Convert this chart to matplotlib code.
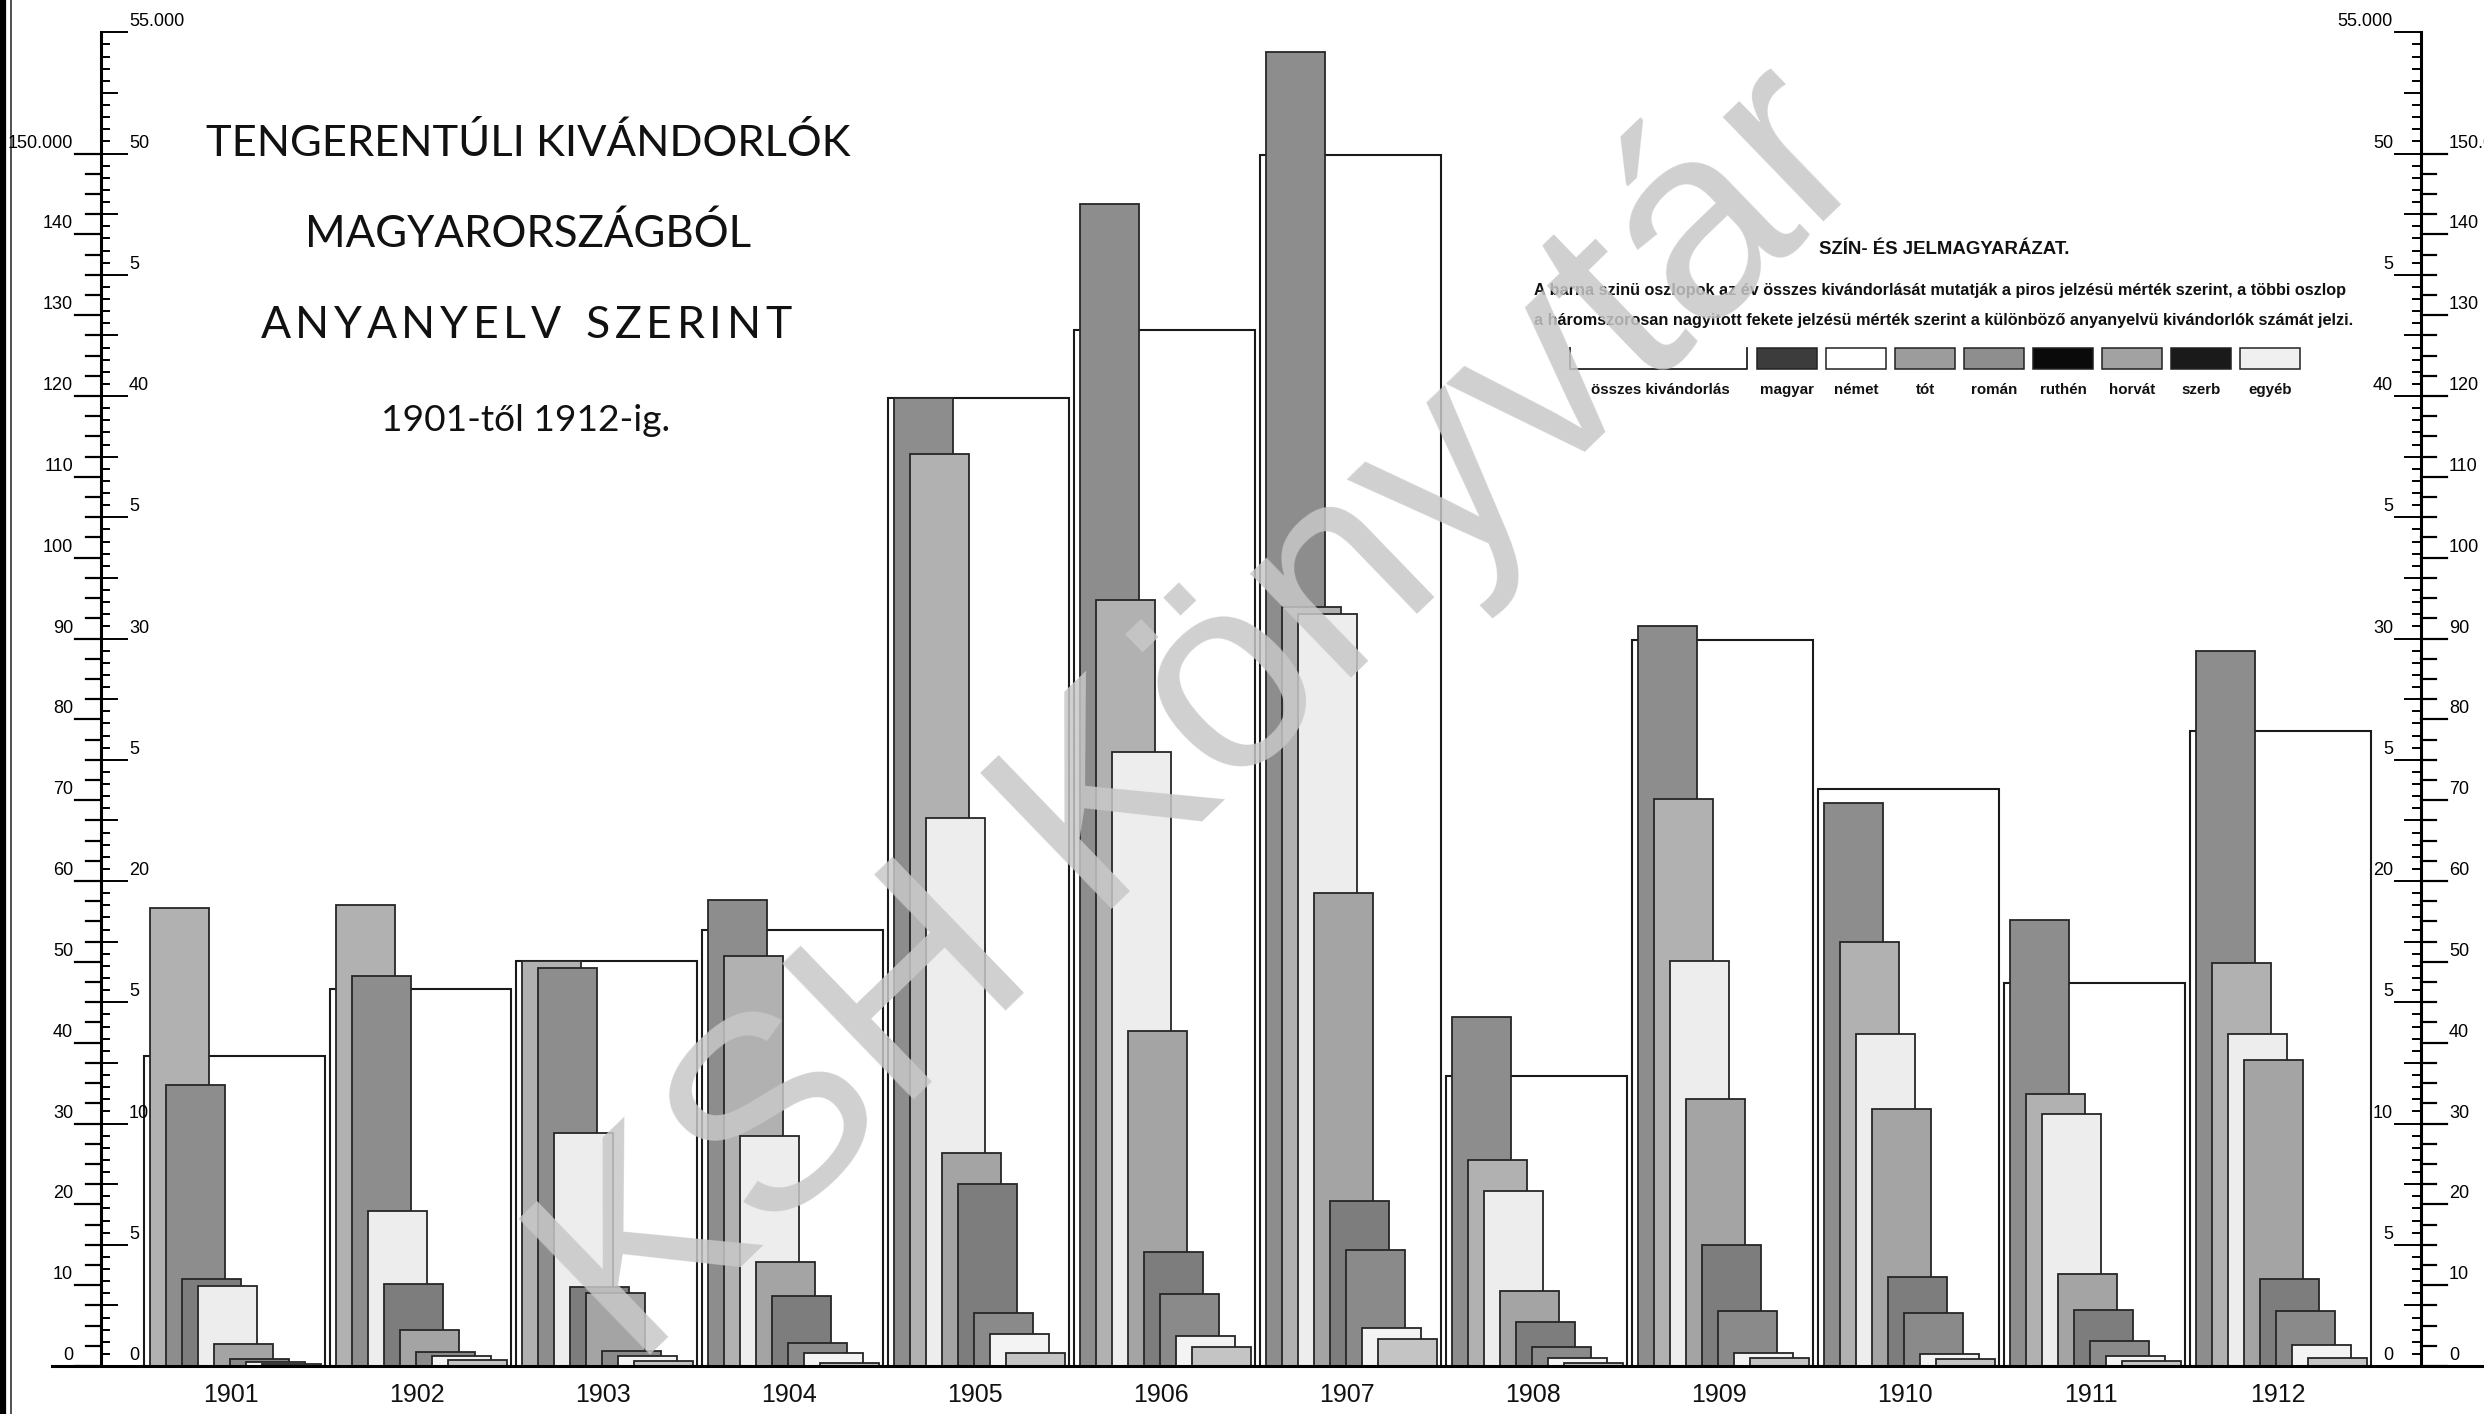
import matplotlib
matplotlib.use("Agg")
import matplotlib.pyplot as plt
from matplotlib.patches import Rectangle

W, H = 2484, 1414

# data (ezer fő)
years = [1901, 1902, 1903, 1904, 1905, 1906, 1907, 1908, 1909, 1910, 1911, 1912]
# összes kivándorlás, red scale
total = [38.4, 46.6, 50.1, 54.0, 119.7, 128.2, 149.8, 35.9, 89.8, 71.4, 47.4, 78.6]
# anyanyelv szerint, black (x3) scale
magyar = [11.6, 16.1, 16.4, 19.2, 39.9, 47.9, 54.2, 14.4, 30.5, 23.2, 18.4, 29.5]
tot = [18.9, 19.0, 16.7, 16.9, 37.6, 31.6, 31.3, 8.5, 23.4, 17.5, 11.2, 16.6]
nemet = [3.3, 6.4, 9.6, 9.5, 22.6, 25.3, 31.0, 7.2, 16.7, 13.7, 10.4, 13.7]
roman = [0.9, 1.5, 3.0, 4.3, 8.8, 13.8, 19.5, 3.1, 11.0, 10.6, 3.8, 12.6]
ruthen = [3.6, 3.4, 3.25, 2.9, 7.5, 4.7, 6.8, 1.8, 5.0, 3.65, 2.3, 3.6]
horvat = [0.3, 0.57, 0.62, 0.93, 2.17, 2.95, 4.77, 0.78, 2.26, 2.19, 1.05, 2.26]
szerb = [0.18, 0.43, 0.40, 0.52, 1.33, 1.25, 1.55, 0.32, 0.53, 0.49, 0.42, 0.88]
egyeb = [0.10, 0.24, 0.22, 0.12, 0.55, 0.77, 1.13, 0.12, 0.32, 0.28, 0.22, 0.32]

lang_names = ["magyar", "német", "tót", "román", "ruthén", "horvát", "szerb", "egyéb"]
lang_values = [magyar, nemet, tot, roman, ruthen, horvat, szerb, egyeb]
bar_colors = ["#8d8d8d", "#ededed", "#b1b1b1", "#a4a4a4", "#7d7d7d", "#8a8a8a", "#f3f3f3", "#c4c4c4"]
legend_colors = ["#3c3c3c", "#ffffff", "#9c9c9c", "#8e8e8e", "#0a0a0a", "#a2a2a2", "#1a1a1a", "#f0f0f0"]

SANS = ["Liberation Sans", "DejaVu Sans"]
TITLE = ["Lato", "DejaVu Sans"]

# pixel layout of the scan
X_PX0, X_PXU = 144, 186       # left of 1901 group, px per year
Y_PX0, Y_PXU = 1366, 24.25    # baseline, px per 1000 (black scale)


def X(px):
    return (px - X_PX0) / X_PXU


def Y(py):
    return (Y_PX0 - py) / Y_PXU


fig = plt.figure(figsize=(W / 100, H / 100), dpi=100)
ax = fig.add_axes([0, 0, 1, 1])
ax.set_xlim(X(0), X(W))
ax.set_ylim(Y(H), Y(0))
ax.axis("off")
renderer = fig.canvas.get_renderer()


def fit_size(s, width_px, **kw):
    t = fig.text(0, 0, s, fontsize=20, **kw)
    w = t.get_window_extent(renderer).width
    t.remove()
    return 20 * width_px / w


TOTAL_W = 181 / X_PXU
OFF = 6 / X_PXU
STEP = 16 / X_PXU
BAR_W = 59 / X_PXU

for i, yr in enumerate(years):
    ax.add_patch(Rectangle((i, 0), TOTAL_W, total[i] / 3, facecolor="white",
                           edgecolor="#1a1a1a", lw=1.5, zorder=2))
    order = sorted(range(len(lang_values)), key=lambda k: -lang_values[k][i])
    for j, k in enumerate(order):
        ax.add_patch(Rectangle((i + OFF + j * STEP, 0), BAR_W, lang_values[k][i],
                               facecolor=bar_colors[k], edgecolor="#262626",
                               lw=1.3, zorder=3 + j))
    ax.text(i + 0.47, Y(1395), str(yr), ha="center", va="center",
            fontsize=18, family=SANS, color="#111111")

# baseline
ax.plot([X(52), X(W)], [0, 0], color="black", lw=2.2, zorder=20)

# left page border
ax.plot([X(3), X(3)], [Y(0), Y(H)], color="black", lw=4.5)
ax.plot([X(11), X(11)], [Y(0), Y(H)], color="#333333", lw=1.2)


def scale(xa, black_side, red_side):
    # black_side / red_side: +1 right of the line, -1 left
    ax.plot([X(xa), X(xa)], [0, 55], color="black", lw=2.2, zorder=20)
    for h in range(0, 111):
        v = h * 0.5
        if h % 10 == 0:
            ln = 26
        elif h % 5 == 0:
            ln = 16
        else:
            ln = 8
        ax.plot([X(xa), X(xa + black_side * ln)], [v, v], color="black", lw=1.4, zorder=20)
    for q in range(0, 61):
        v = q * 2.5 / 3
        ln = 26 if q % 4 == 0 else 15
        ax.plot([X(xa), X(xa + red_side * ln)], [v, v], color="black", lw=1.6, zorder=20)
    ha = "left" if black_side > 0 else "right"
    for k in range(0, 11):
        v = k * 5
        lab = str(v) if k % 2 == 0 else "5"
        ax.text(X(xa + black_side * 28), v + 0.08, lab, ha=ha, va="bottom",
                fontsize=13, family=SANS, zorder=21)
    ax.text(X(xa + black_side * 28), 55.1, "55.000", ha=ha, va="bottom",
            fontsize=13, family=SANS, zorder=21)
    ha = "left" if red_side > 0 else "right"
    for k in range(0, 16):
        v = k * 10
        lab = "150.000" if v == 150 else str(v)
        ax.text(X(xa + red_side * 28), v / 3 + 0.08, lab, ha=ha, va="bottom",
                fontsize=13, family=SANS, zorder=21)


scale(101, +1, -1)
scale(2421, -1, +1)

# title
fig.text(528 / W, 1 - 143 / H, "TENGERENTÚLI KIVÁNDORLÓK", ha="center", va="center",
         fontsize=fit_size("TENGERENTÚLI KIVÁNDORLÓK", 642, family=TITLE),
         family=TITLE, color="#111111")
fig.text(528 / W, 1 - 234 / H, "MAGYARORSZÁGBÓL", ha="center", va="center",
         fontsize=fit_size("MAGYARORSZÁGBÓL", 445, family=TITLE),
         family=TITLE, color="#111111")
fig.text(526 / W, 1 - 420 / H, "1901-től 1912-ig.", ha="center", va="center",
         fontsize=fit_size("1901-től 1912-ig.", 290, family=TITLE),
         family=TITLE, color="#111111")

line3 = "ANYANYELV SZERINT"
widths = []
for ch in line3:
    if ch == " ":
        widths.append(16)
        continue
    t = fig.text(0, 0, ch, fontsize=32, family=TITLE)
    widths.append(t.get_window_extent(renderer).width)
    t.remove()
track = (531 - sum(widths)) / (len(line3) - 1)
xpos = 526 - 531 / 2
for ch, w in zip(line3, widths):
    if ch != " ":
        fig.text(xpos / W, 1 - 325 / H, ch, ha="left", va="center",
                 fontsize=32, family=TITLE, color="#111111")
    xpos += w + track

# legend
head = "SZÍN- ÉS JELMAGYARÁZAT."
fig.text(1944 / W, 1 - 250 / H, head, ha="center", va="center",
         fontsize=fit_size(head, 250, family=SANS, weight="bold"),
         family=SANS, weight="bold", color="#111111")
leg1 = ("A barna szinü oszlopok az év összes kivándorlását mutatják a piros jelzésü "
        "mérték szerint, a többi oszlop")
leg2 = ("a háromszorosan nagyitott fekete jelzésü mérték szerint a különböző "
        "anyanyelvü kivándorlók számát jelzi.")
fs1 = fit_size(leg1, 816, family=SANS, weight="bold")
fig.text(1940 / W, 1 - 291 / H, leg1, ha="center", va="center", fontsize=fs1,
         family=SANS, weight="bold", color="#111111")
fig.text(1944 / W, 1 - 320 / H, leg2, ha="center", va="center", fontsize=fs1,
         family=SANS, weight="bold", color="#111111")

sw_top, sw_bot = 348, 369
ax.plot([X(1570), X(1570), X(1747), X(1747)], [Y(sw_top), Y(sw_bot), Y(sw_bot), Y(sw_top)],
        color="#222222", lw=1.3)
fs_lab = fit_size("összes kivándorlás", 139, family=SANS, weight="bold")
fig.text(1660 / W, 1 - 390 / H, "összes kivándorlás", ha="center", va="center",
         fontsize=fs_lab, family=SANS, weight="bold", color="#111111")
for k, name in enumerate(lang_names):
    x0 = 1757 + k * 69
    ax.add_patch(Rectangle((X(x0), Y(sw_bot)), 60 / X_PXU, (sw_bot - sw_top) / Y_PXU,
                           facecolor=legend_colors[k], edgecolor="#222222", lw=1.1))
    fig.text((x0 + 30) / W, 1 - 390 / H, name, ha="center", va="center",
             fontsize=fs_lab, family=SANS, weight="bold", color="#111111")

# watermark
fig.text(1205 / W, 1 - 718 / H, "KSH Könyvtár", ha="center", va="center", rotation=44,
         rotation_mode="anchor", fontsize=198, family=SANS,
         color="#c8c8c8", alpha=0.85, zorder=50)

fig.savefig("out.png", dpi=100, facecolor="white")
